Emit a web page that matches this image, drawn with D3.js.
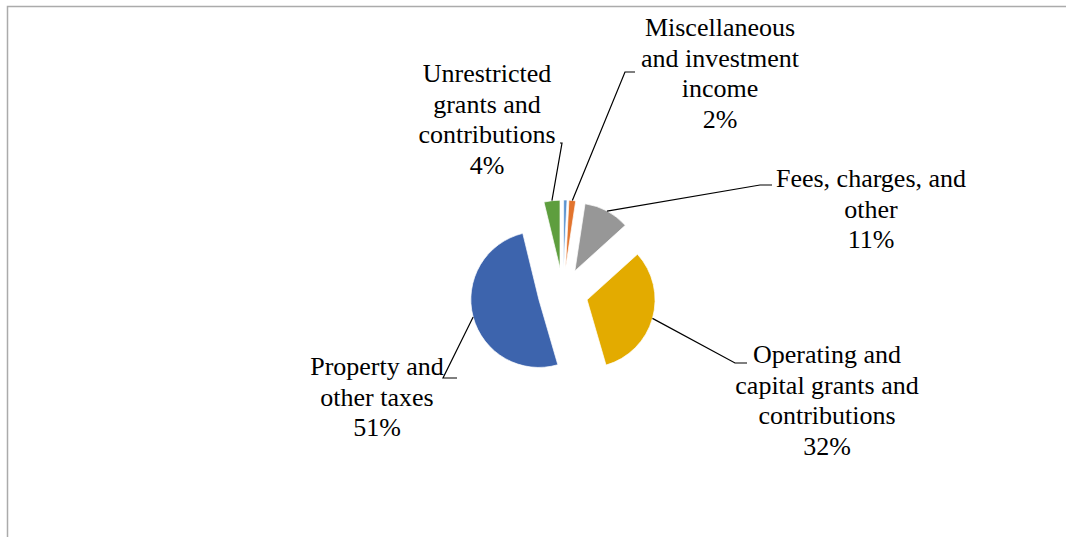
<!DOCTYPE html>
<html>
<head>
<meta charset="utf-8">
<script src="https://cdn.jsdelivr.net/npm/d3@7"></script>
<style>
  body { margin: 0; background: #fff; }
  text, tspan { font-family: "Liberation Serif", "DejaVu Serif", serif; }
</style>
</head>
<body>
<div id="chart"></div>
<script>
// slice data, clockwise from 12 o'clock
var categories = ["Other", "Miscellaneous and investment income", "Fees, charges, and other",
                  "Operating and capital grants and contributions", "Property and other taxes",
                  "Unrestricted grants and contributions"];
var values = [0.8, 1.6, 10.9, 32.2, 50.7, 3.8];
// label lines as shown (empty = no label)
var labelLines = [
    [],
    ["Miscellaneous", "and investment", "income"],
    ["Fees, charges, and", "other"],
    ["Operating and", "capital grants and", "contributions"],
    ["Property and", "other taxes"],
    ["Unrestricted", "grants and", "contributions"]
];
var colors = ["#5B93D0", "#E2742E", "#979797", "#E3AB00", "#3D64AD", "#5E9E3E"];

// layout for labels: text center x, first baseline y, elbow points of leader
var labelPos = [
    null,
    {x: 720, y: 36, elbow: [[635, 72], [625, 72]]},
    {x: 871, y: 187, elbow: [[772, 185], [760, 185]]},
    {x: 827, y: 363, elbow: [[747, 363], [735, 363]]},
    {x: 377, y: 375, elbow: [[457, 378], [443, 378]]},
    {x: 487, y: 82, elbow: [[560, 143], [562, 143]]}
];

var width = 1066, height = 537;
var cx = 563, cy = 293, radius = 68, explode = 25;
var lineH = 30.5;

var svg = d3.select("#chart")
        .append("svg")
        .attr("width", width)
        .attr("height", height)

// chart area border
svg.append("rect")
    .attr("x", 7.5)
    .attr("y", 6.5)
    .attr("width", width + 20)
    .attr("height", height + 20)
    .attr("fill", "#fff")
    .attr("stroke", "#ababab")
    .attr("stroke-width", 1.5)

var total = d3.sum(values);
var pie = d3.pie().sort(null).value(function(d) { return d; });
var arcs = pie(values);
var arc = d3.arc().innerRadius(0).outerRadius(radius);

var g = svg.append("g").attr("transform", "translate(" + cx + "," + cy + ")");

function offset(d, r) {
    var a = (d.startAngle + d.endAngle) / 2;
    return [Math.sin(a) * r, -Math.cos(a) * r];
}

g.selectAll(".slice")
    .data(arcs)
    .enter()
    .append("path")
    .attr("class", "slice")
    .attr("d", arc)
    .attr("transform", function(d) {
        var o = offset(d, explode);
        return "translate(" + o[0] + "," + o[1] + ")";
    })
    .attr("fill", function(d, i) { return colors[i]; })
    .attr("stroke", "#fff")
    .attr("stroke-width", 0.7)

// leader lines
arcs.forEach(function(d, i) {
    if (!labelPos[i]) return;
    var o = offset(d, explode + radius);
    var pts = [[cx + o[0], cy + o[1]]].concat(labelPos[i].elbow.slice().reverse());
    svg.append("path")
        .attr("d", d3.line()(pts))
        .attr("fill", "none")
        .attr("stroke", "#000")
        .attr("stroke-width", 1.2)
});

// labels
arcs.forEach(function(d, i) {
    if (!labelPos[i]) return;
    var lines = labelLines[i].concat([Math.round(d.data / total * 100) + "%"]);
    var t = svg.append("text")
        .attr("text-anchor", "middle")
        .attr("font-family", "Liberation Serif")
        .attr("font-size", "26px")
        .attr("fill", "#000")
    lines.forEach(function(s, k) {
        t.append("tspan")
            .attr("x", labelPos[i].x)
            .attr("y", labelPos[i].y + k * lineH)
            .attr("font-family", "Liberation Serif")
            .text(s)
    });
});
</script>
</body>
</html>
